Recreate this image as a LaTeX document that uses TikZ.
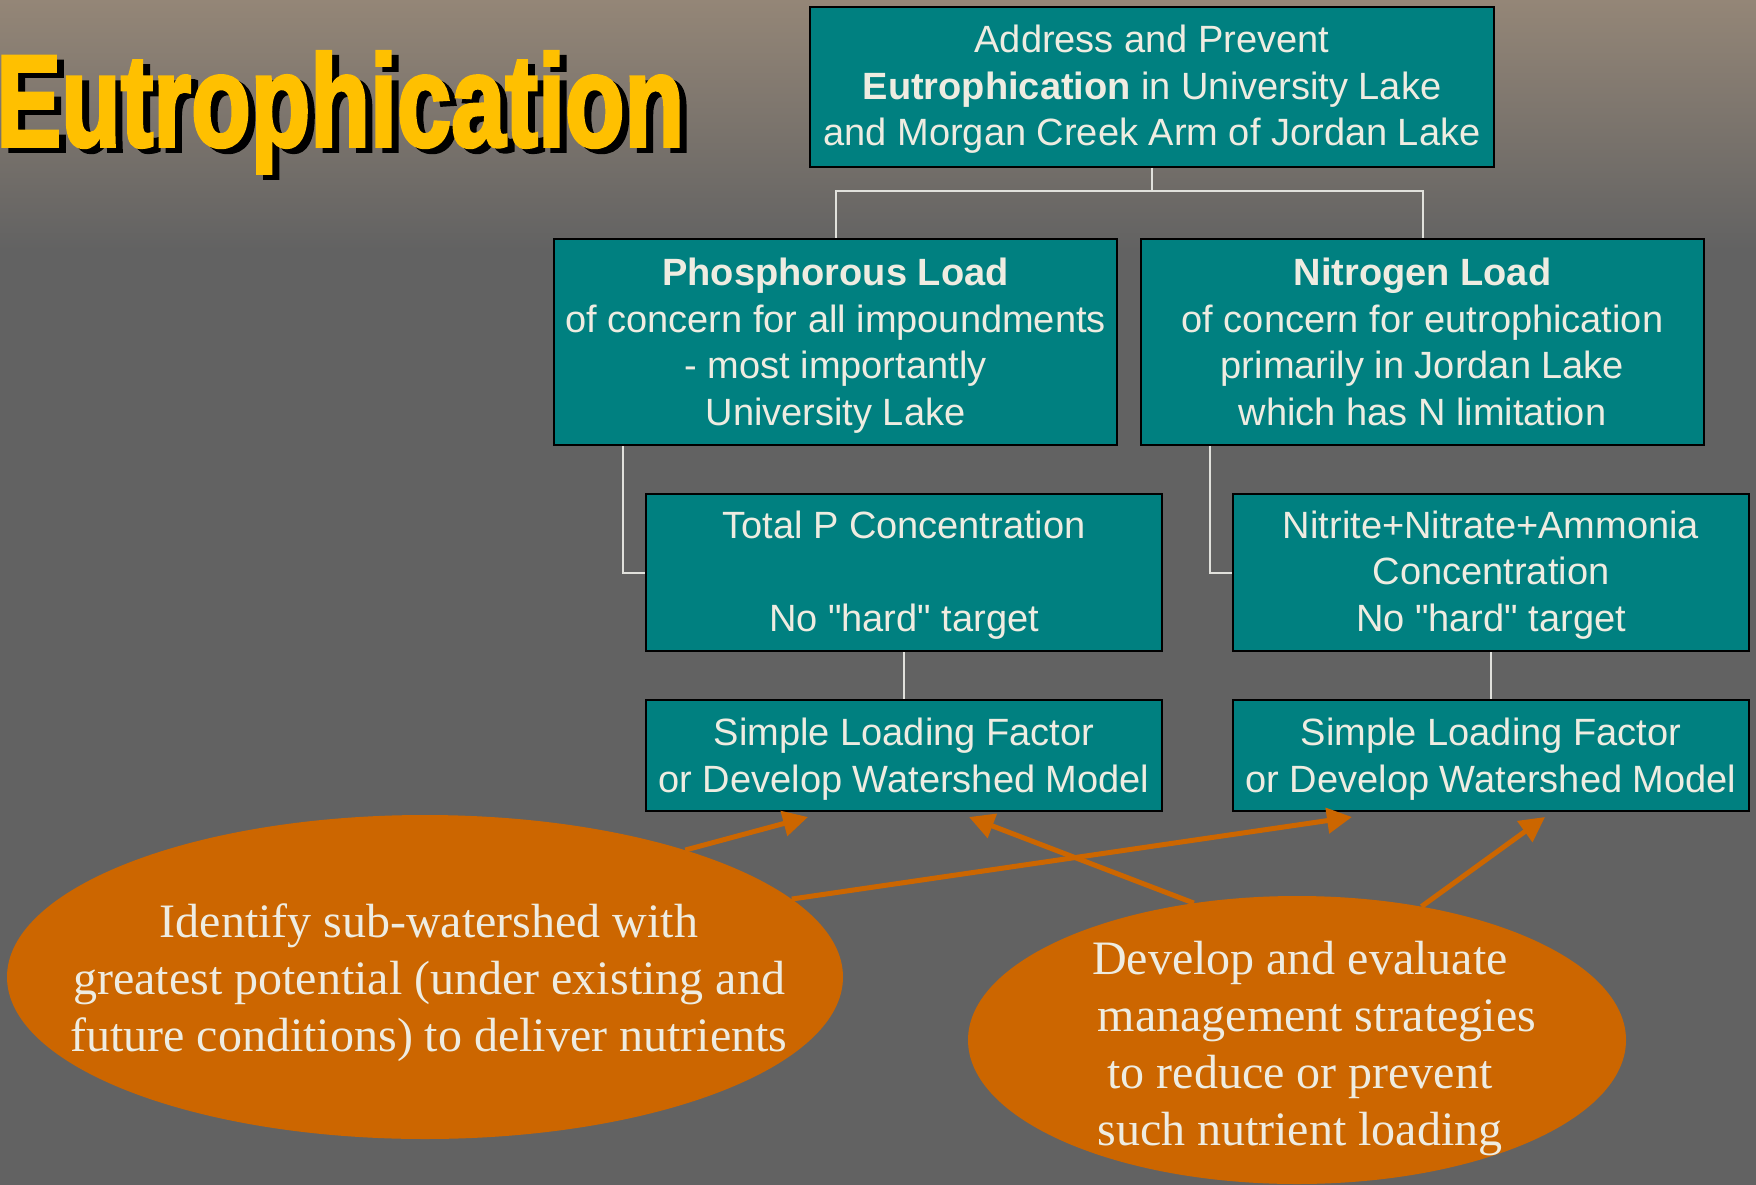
\documentclass[tikz,border=0pt]{standalone}
\usepackage{fontspec}
\usepackage{graphicx}
\setmainfont{Liberation Sans}[Ligatures=TeXOff]
\newfontfamily\serifface{Liberation Serif}
\newfontfamily\titleface[FakeBold=3]{Liberation Sans}
\usetikzlibrary{arrows.meta,shapes.geometric}
\definecolor{bgtop}{RGB}{148,134,119}
\definecolor{bgbot}{RGB}{98,98,98}
\definecolor{boxteal}{RGB}{0,128,128}
\definecolor{boxtext}{RGB}{238,236,225}
\definecolor{linkcol}{RGB}{225,225,220}
\definecolor{orng}{RGB}{204,102,0}
\definecolor{titleyellow}{RGB}{255,192,0}
\newcommand\mytitle{\scalebox{0.75}[1]{\titleface\bfseries\fontsize{130}{134}\selectfont Eutrophication}}
\begin{document}
\begin{tikzpicture}[x=1pt,y=-1pt,
  box/.style={draw=black, line width=2pt, fill=boxteal, inner sep=0pt},
  boxtxt/.style={anchor=base, text=boxtext, align=center, inner sep=0pt, font=\fontsize{38}{46.5}\selectfont},
  link/.style={draw=linkcol, line width=2pt},
  oval/.style={ellipse, fill=orng, draw=none, inner sep=0pt},
  ovaltext/.style={text=boxtext, align=center, inner sep=0pt, font=\serifface\fontsize{48}{57}\selectfont},
  arr/.style={draw=orng, line width=5pt, -{Triangle[length=25pt,width=25pt]}}]
\useasboundingbox (0,0) rectangle (1756,1185);
\fill[bgbot] (0,0) rectangle (1756,1185);
\shade[top color=bgtop, bottom color=bgbot] (0,0) rectangle (1756,250);

% title
\node[anchor=base west, inner sep=0pt, text=black] (titleshadow) at (3,151) {\mytitle};
\node[anchor=base west, inner sep=0pt, text=titleyellow] (title) at (-4,146) {\mytitle};

% boxes (text anchored at the baseline of the last line)
\node[box, minimum width=684pt, minimum height=160pt] (top) at (1152,87) {};
\node[boxtxt] (topt) at (1152,146)
  {Address and Prevent\\\textbf{Eutrophication} in University Lake\\and Morgan Creek Arm of Jordan Lake};
\node[box, minimum width=563pt, minimum height=206pt] (phos) at (835.5,342) {};
\node[boxtxt] (phost) at (835.5,425)
  {\textbf{Phosphorous Load}\\of concern for all impoundments\\- most importantly\\University Lake};
\node[box, minimum width=563pt, minimum height=206pt] (nitro) at (1422.5,342) {};
\node[boxtxt] (nitrot) at (1422.5,425)
  {\textbf{Nitrogen Load}\\of concern for eutrophication\\primarily in Jordan Lake\\which has N limitation};
\node[box, minimum width=516pt, minimum height=157pt] (totp) at (904,572.5) {};
\node[boxtxt] (totpt) at (904,631)
  {Total P Concentration\\[46.5pt]No "hard" target};
\node[box, minimum width=516pt, minimum height=157pt] (nitrite) at (1491,572.5) {};
\node[boxtxt] (nitritet) at (1491,631)
  {Nitrite+Nitrate+Ammonia\\Concentration\\No "hard" target};
\node[box, minimum width=516pt, minimum height=111pt] (slfl) at (904,755.5) {};
\node[boxtxt] (slflt) at (904,792)
  {Simple Loading Factor\\or Develop Watershed Model};
\node[box, minimum width=516pt, minimum height=111pt] (slfr) at (1491,755.5) {};
\node[boxtxt] (slfrt) at (1491,792)
  {Simple Loading Factor\\or Develop Watershed Model};

% tree connectors
\draw[link] (top.south) -- ++(0,23) -| (phos.north);
\draw[link] (top.south) -- ++(0,23) -| (nitro.north);
\draw[link] ([xshift=70pt]phos.south west) |- (totp.west);
\draw[link] ([xshift=70pt]nitro.south west) |- (nitrite.west);
\draw[link] (totp.south) -- (slfl.north);
\draw[link] (nitrite.south) -- (slfr.north);

% ellipses
\node[oval, minimum width=836pt, minimum height=324pt] (e1) at (425,977) {};
\node[ovaltext] (e1t) at (429,983)
  {Identify sub-watershed with\\greatest potential (under existing and\\future conditions) to deliver nutrients};
\node[oval, minimum width=658pt, minimum height=288pt] (e2) at (1297,1040) {};
\node[ovaltext, anchor=north] (e2t) at (1300,941)
  {Develop and evaluate\\\hspace*{34pt}management strategies\\to reduce or prevent\\such nutrient loading};

% arrows
\coordinate (t1) at (808,817);
\coordinate (t2) at (1352,817);
\coordinate (t3) at (969,817);
\coordinate (t4) at (1545,817);
\draw[arr] (e1.26) -- (t1);
\draw[arr] (e1.12) -- (t2);
\draw[arr] (e2.127) -- (t3);
\draw[arr] (e2.47) -- (t4);
\end{tikzpicture}
\end{document}
